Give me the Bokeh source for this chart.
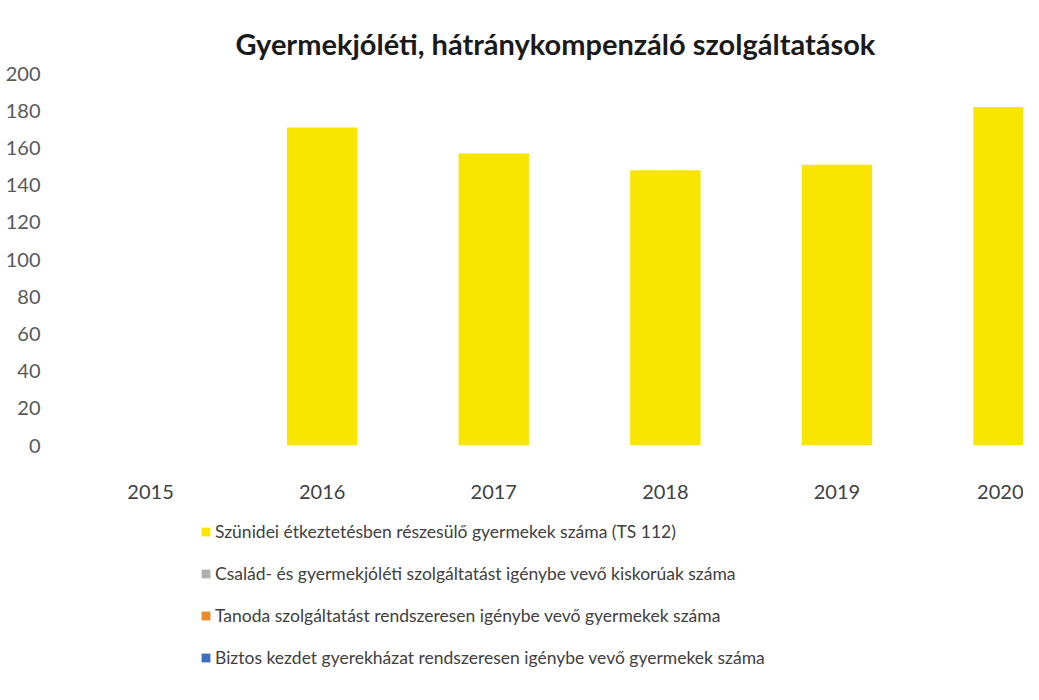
from bokeh.plotting import figure
from bokeh.models import Legend, LegendItem, Range1d, FixedTicker
from bokeh.layouts import column
from bokeh.embed import file_html
from bokeh.resources import INLINE

years = ["2015", "2016", "2017", "2018", "2019", "2020"]
series_names = [
    "Szünidei étkeztetésben részesülő gyermekek száma (TS 112)",
    "Család- és gyermekjóléti szolgáltatást igénybe vevő kiskorúak száma",
    "Tanoda szolgáltatást rendszeresen igénybe vevő gyermekek száma",
    "Biztos kezdet gyerekházat rendszeresen igénybe vevő gyermekek száma",
]
szunidei = [0, 171, 157, 148, 151, 182]
csalad = [0, 0, 0, 0, 0, 0]
tanoda = [0, 0, 0, 0, 0, 0]
biztos = [0, 0, 0, 0, 0, 0]
colors = ["#F8E600", "#B0B0B0", "#E8892A", "#3C6FC0"]
y_ticks = [0, 20, 40, 60, 80, 100, 120, 140, 160, 180, 200]

FONT = "Lato"

xs = list(range(len(years)))
data = {"x": xs, "s0": szunidei, "s1": csalad, "s2": tanoda, "s3": biztos}
keys = ["s0", "s1", "s2", "s3"]

p = figure(
    x_range=Range1d(-0.583, 5.087),
    y_range=Range1d(0, 200),
    width=1023, height=507,
    output_backend="svg", toolbar_location=None,
    min_border_left=50, min_border_right=0, min_border_top=73,
    min_border_bottom=62,
)
p.vbar_stack(keys, x="x", width=0.41, color=colors, line_color=None, source=data)

p.title.text = "Gyermekjóléti, hátránykompenzáló szolgáltatások"
p.title.align = "left"
p.title.offset = 185
p.title.text_font = FONT
p.title.text_font_size = "29px"
p.title.text_font_style = "bold"
p.title.text_color = "#1a1a1a"
p.title.standoff = 26

p.xgrid.visible = False
p.ygrid.visible = False
p.outline_line_color = None

p.yaxis.ticker = FixedTicker(ticks=y_ticks)
p.yaxis.axis_line_color = None
p.yaxis.major_tick_line_color = None
p.yaxis.minor_tick_line_color = None
p.yaxis.major_label_text_font = FONT
p.yaxis.major_label_text_font_size = "20px"
p.yaxis.major_label_text_color = "#595959"
p.yaxis.major_label_standoff = 4

p.xaxis.ticker = FixedTicker(ticks=xs)
p.xaxis.major_label_overrides = {i: y for i, y in zip(xs, years)}
p.xaxis.axis_line_color = None
p.xaxis.major_tick_line_color = None
p.xaxis.minor_tick_line_color = None
p.xaxis.major_label_text_font = FONT
p.xaxis.major_label_text_font_size = "20px"
p.xaxis.major_label_text_color = "#404040"
p.xaxis.major_label_standoff = 33

# legend panel: swatches come from the same series (zero-width, out of view)
lf = figure(
    x_range=Range1d(-0.583, 5.087), y_range=Range1d(1000, 1001),
    width=1023, height=183,
    output_backend="svg", toolbar_location=None,
    x_axis_location=None, y_axis_location=None,
    min_border_left=0, min_border_right=0, min_border_top=0, min_border_bottom=0,
)
lf.grid.visible = False
lf.outline_line_color = None
lf.background_fill_color = None
lf.border_fill_color = None
lrs = lf.vbar_stack(keys, x="x", width=0, color=colors, line_color=None, source=data)

items = [LegendItem(label=n, renderers=[r]) for n, r in zip(series_names, lrs)]
legend = Legend(items=items, orientation="vertical", location=(150, 22),
                label_text_font=FONT, label_text_font_size="17.5px",
                label_text_color="#404040", glyph_width=11, glyph_height=11,
                label_height=20, spacing=21, padding=0, margin=0,
                border_line_color=None, background_fill_alpha=0,
                label_standoff=4)
lf.add_layout(legend, "center")

layout = column(p, lf, spacing=0)
open("out.html", "w").write(file_html(layout, INLINE))
